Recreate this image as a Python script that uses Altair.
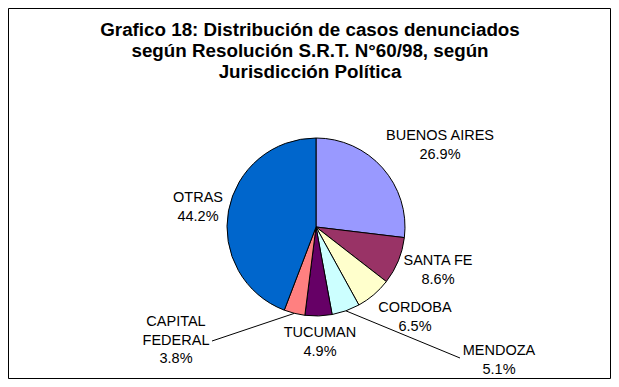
import math
import altair as alt
import pandas as pd

# ---- data ----
categories = ["BUENOS AIRES", "SANTA FE", "CORDOBA", "MENDOZA", "TUCUMAN", "CAPITAL FEDERAL", "OTRAS"]
values = [26.9, 8.6, 6.5, 5.1, 4.9, 3.8, 44.2]
label_names = ["BUENOS AIRES", "SANTA FE", "CORDOBA", "MENDOZA", "TUCUMAN", "CAPITAL\nFEDERAL", "OTRAS"]
colors = ["#9999FF", "#993366", "#FFFFCC", "#CCFFFF", "#660066", "#FF8080", "#0066CC"]
title_lines = ["Grafico 18: Distribución de casos denunciados",
               "según Resolución S.R.T. N°60/98, según",
               "Jurisdicción Política"]

# ---- layout (screen px minus page margin) ----
M = 8
W, H = 603, 371
CX, CY, R = 316 - M, 227 - M, 89
label_x = [440, 438, 415, 499, 320, 176, 198]
label_y = [136, 261, 308, 351, 333, 322, 198]   # centre of first line
leader_end = {"MENDOZA": (460, 358), "CAPITAL FEDERAL": (212, 341)}

df = pd.DataFrame({
    "cat": categories,
    "value": values,
    "idx": list(range(len(categories))),
    "text": [f"{n}\n{v:.1f}%" for n, v in zip(label_names, values)],
    "lx": [x - M for x in label_x],
    "ly": [y - M for y in label_y],
})

# leader lines: from slice mid-angle on the rim to label
total = sum(values)
rows = []
cum = 0.0
for c, v in zip(categories, values):
    mid = (cum + v / 2) / total * 2 * math.pi
    cum += v
    if c in leader_end:
        sx = CX + R * math.sin(mid)
        sy = CY - R * math.cos(mid)
        ex, ey = leader_end[c]
        rows.append({"cat": c, "o": 0, "px": sx, "py": sy})
        rows.append({"cat": c, "o": 1, "px": ex - M, "py": ey - M})
lines_df = pd.DataFrame(rows)

FONT = "Liberation Sans"

border = alt.Chart(pd.DataFrame({"b": [1]})).mark_rect(
    fill="white", stroke="black", strokeWidth=1
).encode(
    x=alt.value(0.5), x2=alt.value(W - 0.5),
    y=alt.value(0.5), y2=alt.value(H - 0.5),
)

pie = alt.Chart(df).mark_arc(radius=R, stroke="black", strokeWidth=1).encode(
    theta=alt.Theta("value:Q", stack=True),
    order=alt.Order("idx:Q"),
    color=alt.Color("cat:N", scale=alt.Scale(domain=categories, range=colors), legend=None),
    x=alt.value(CX),
    y=alt.value(CY),
)

leaders = alt.Chart(lines_df).mark_line(color="black", strokeWidth=1).encode(
    x=alt.X("px:Q", scale=None),
    y=alt.Y("py:Q", scale=None),
    detail="cat:N",
    order="o:Q",
)

labels = alt.Chart(df).mark_text(
    font=FONT, fontSize=14.5, lineBreak="\n", lineHeight=18.5,
    align="center", baseline="middle", color="black"
).encode(
    x=alt.X("lx:Q", scale=None),
    y=alt.Y("ly:Q", scale=None),
    text="text:N",
)

title_df = pd.DataFrame({"t": ["\n".join(title_lines)]})
title = alt.Chart(title_df).mark_text(
    font=FONT, fontSize=18.8, fontWeight="bold", lineBreak="\n", lineHeight=21,
    align="center", baseline="alphabetic", color="black"
).encode(
    x=alt.value(310 - M),
    y=alt.value(36 - M),
    text="t:N",
)

chart = alt.layer(border, pie, leaders, labels, title).properties(
    width=W, height=H,
    autosize=alt.AutoSizeParams(type="none"),
    padding=0,
).configure_view(strokeWidth=0).configure(background="white")

chart.save("out.html", embed_options={"renderer": "svg", "actions": False})
